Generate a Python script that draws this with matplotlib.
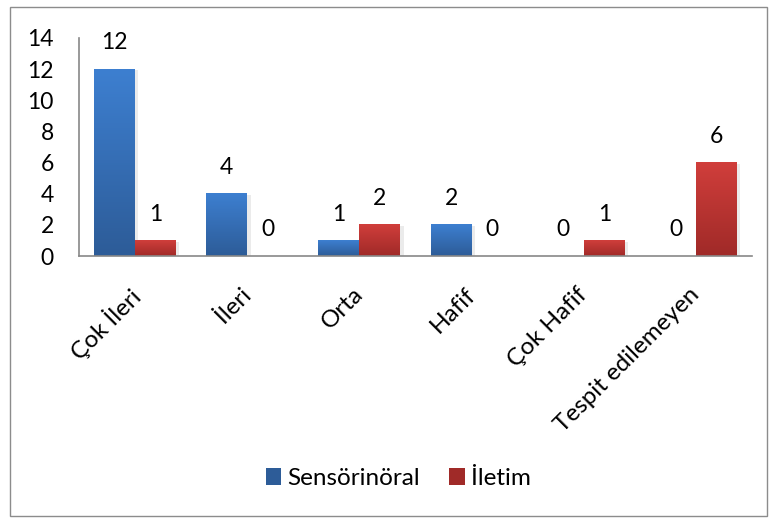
import numpy as np
import matplotlib
matplotlib.use("Agg")
import matplotlib.pyplot as plt
import matplotlib.transforms as mtransforms
from matplotlib.patches import Rectangle, Patch
from matplotlib.colors import LinearSegmentedColormap

plt.rcParams['font.family'] = ['Lato', 'DejaVu Sans']

# kategoriler ve seriler
categories = ['Çok İleri', 'İleri', 'Orta', 'Hafif', 'Çok Hafif', 'Tespit edilemeyen']
sensorinoral = [12, 4, 1, 2, 0, 0]
iletim = [1, 0, 2, 0, 1, 6]
series_names = ['Sensörinöral', 'İletim']

blue_top, blue_bot = '#3d7fd0', '#2d5c98'
red_top, red_bot = '#d03e3b', '#a02a28'

fig = plt.figure(figsize=(7.69, 5.19), dpi=100)
ax = fig.add_axes([0.1027, 0.5067, 0.8753, 0.4201])

# dis cerceve
fig.patches.append(Rectangle((0.013, 0.006), 0.985, 0.98, transform=fig.transFigure,
                             fill=False, edgecolor='#8c8c8c', linewidth=1.0))

x = np.arange(len(categories))
w = 0.365

bars1 = ax.bar(x - w / 2, sensorinoral, w, color='none')
bars2 = ax.bar(x + w / 2, iletim, w, color='none')


def gradient_fill(bars, top, bot):
    cmap = LinearSegmentedColormap.from_list('g', [bot, top])
    grad = np.linspace(0, 1, 64).reshape(-1, 1)
    for b in bars:
        h = b.get_height()
        if h <= 0:
            continue
        x0 = b.get_x()
        x1 = x0 + b.get_width()
        # hafif golge
        ax.add_patch(Rectangle((x0 + 0.03, 0), b.get_width(), h - 0.08,
                               facecolor='#000000', alpha=0.08, zorder=1, linewidth=0))
        ax.imshow(grad, extent=[x0, x1, 0, h], origin='lower', aspect='auto',
                  cmap=cmap, zorder=2, interpolation='bilinear')


gradient_fill(bars1, blue_top, blue_bot)
gradient_fill(bars2, red_top, red_bot)

for bars, vals in ((bars1, sensorinoral), (bars2, iletim)):
    for b, v in zip(bars, vals):
        ax.annotate(str(v), (b.get_x() + b.get_width() / 2, v),
                    xytext=(0, 19), textcoords='offset points',
                    ha='center', va='center', fontsize=16.5, color='#000000')

ax.set_xlim(-0.5, len(categories) - 0.5)
ax.set_ylim(0, 14)
ax.set_yticks(range(0, 15, 2))
ax.set_xticks(x)
ax.set_xticklabels(categories, rotation=45, ha='right', va='top',
                   rotation_mode='anchor', fontsize=17.5)
ax.tick_params(axis='both', length=0)
ax.tick_params(axis='y', pad=18, labelsize=16.5)
ax.tick_params(axis='x', pad=20)

shift = mtransforms.ScaledTranslation(-7 / 100, 0, fig.dpi_scale_trans)
for lbl in ax.get_xticklabels():
    lbl.set_transform(lbl.get_transform() + shift)

for s in ('top', 'right'):
    ax.spines[s].set_visible(False)
for s in ('left', 'bottom'):
    ax.spines[s].set_color('#888888')
    ax.spines[s].set_linewidth(1.2)

handles = [Patch(facecolor=blue_bot, label=series_names[0]),
           Patch(facecolor=red_bot, label=series_names[1])]
fig.legend(handles=handles, loc='center', bbox_to_anchor=(0.518, 0.078), ncol=2,
           frameon=False, fontsize=17.5, handlelength=0.65, handleheight=0.65,
           handletextpad=0.25, columnspacing=1.2)

fig.savefig('out.png', dpi=100)
